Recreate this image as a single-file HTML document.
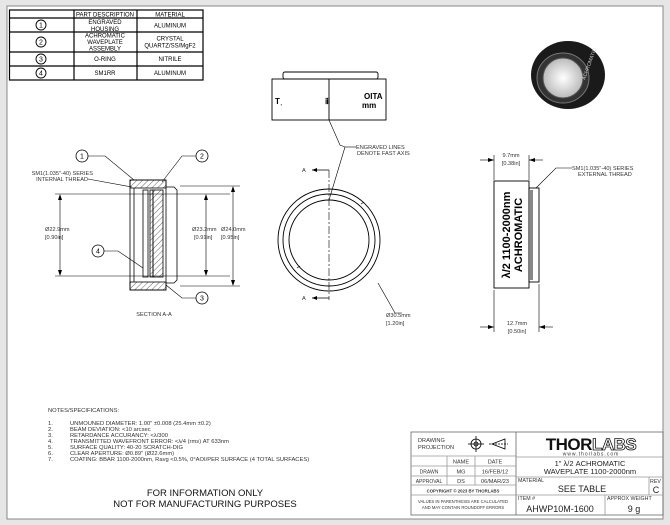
<!DOCTYPE html>
<html><head><meta charset="utf-8"><style>
html,body{margin:0;padding:0;background:#e6e6e6;}
svg{display:block;font-family:"Liberation Sans",sans-serif;}
</style></head><body>
<svg width="670" height="525" viewBox="0 0 670 525" xmlns="http://www.w3.org/2000/svg">
<defs>
<pattern id="h" width="4" height="4" patternUnits="userSpaceOnUse" patternTransform="rotate(45)"><line x1="0" y1="0" x2="0" y2="4" stroke="#000" stroke-width="0.6"/></pattern>
<radialGradient id="g" cx="0.5" cy="0.5" r="0.5"><stop offset="0" stop-color="#fff"/><stop offset="1" stop-color="#bbb"/></radialGradient>
</defs>
<rect x="0" y="0" width="670" height="525" fill="#e6e6e6"/>
<rect x="7" y="6" width="656" height="513" fill="#fff" stroke="#888" stroke-width="1"/>

<g stroke="#000" stroke-width="1.2" fill="none">
<rect x="9.5" y="10" width="193.5" height="70"/>
<line x1="74" y1="10" x2="74" y2="80"/><line x1="137" y1="10" x2="137" y2="80"/>
<line x1="9.5" y1="18" x2="203" y2="18"/><line x1="9.5" y1="32" x2="203" y2="32"/>
<line x1="9.5" y1="52" x2="203" y2="52"/><line x1="9.5" y1="66" x2="203" y2="66"/>
</g>
<g font-size="6" fill="#000" text-anchor="middle">
<text x="105" y="16.5">PART DESCRIPTION</text><text x="170" y="16.5">MATERIAL</text>
<text x="105" y="24">ENGRAVED</text><text x="105" y="31">HOUSING</text><text x="170" y="27.5">ALUMINUM</text>
<text x="105" y="37.5">ACHROMATIC</text><text x="105" y="44">WAVEPLATE</text><text x="105" y="50.5">ASSEMBLY</text>
<text x="170" y="40.5">CRYSTAL</text><text x="170" y="47.5">QUARTZ/SS/MgF2</text>
<text x="105" y="61">O-RING</text><text x="170" y="61">NITRILE</text>
<text x="105" y="75">SM1RR</text><text x="170" y="75">ALUMINUM</text>
</g>
<g stroke="#000" fill="none" stroke-width="0.9">
<circle cx="41" cy="25" r="5"/><circle cx="41" cy="42" r="5"/><circle cx="41" cy="59" r="5"/><circle cx="41" cy="73" r="5"/>
</g>
<g font-size="7" text-anchor="middle"><text x="41" y="27.5">1</text><text x="41" y="44.5">2</text><text x="41" y="61.5">3</text><text x="41" y="75.5">4</text></g>

<g stroke="#000" fill="none" stroke-width="0.8">
<rect x="130" y="180" width="36" height="8" fill="url(#h)"/>
<rect x="130" y="282" width="36" height="8" fill="url(#h)"/>
<rect x="130" y="180" width="36" height="110"/>
<path d="M166 187 H174 L177 190 V280 L174 283 H166"/>
<line x1="134" y1="188" x2="134" y2="282"/>
<rect x="143" y="190" width="5" height="87"/>
<rect x="150" y="190" width="3" height="87" fill="url(#h)"/>
<rect x="153" y="190" width="10" height="87" fill="url(#h)"/>
<line x1="55" y1="194" x2="230" y2="194" stroke-width="0.6"/>
<line x1="55" y1="276" x2="230" y2="276" stroke-width="0.6"/>
<line x1="60" y1="196" x2="60" y2="274" stroke-width="0.6"/>
<line x1="206" y1="196" x2="206" y2="274" stroke-width="0.6"/>
<line x1="180" y1="186" x2="240" y2="186" stroke-width="0.6"/>
<line x1="180" y1="286" x2="240" y2="286" stroke-width="0.6"/>
<line x1="233" y1="188" x2="233" y2="284" stroke-width="0.6"/>
<circle cx="82" cy="156" r="6"/><circle cx="202" cy="156" r="6"/><circle cx="202" cy="298" r="6"/><circle cx="98" cy="251" r="6"/>
<polyline points="88,156 105,156 134,180" stroke-width="0.6"/>
<polyline points="196,156 182,156 162,182" stroke-width="0.6"/>
<polyline points="196,298 182,298 166,285" stroke-width="0.6"/>
<polyline points="104,251 118,251 143,268" stroke-width="0.6"/>
<line x1="88" y1="179" x2="132" y2="187" stroke-width="0.6"/>
</g>
<g fill="#000">
<path d="M60 194 l-2 6 h4z M60 276 l-2 -6 h4z M206 194 l-2 6 h4z M206 276 l-2 -6 h4z M233 186 l-2 6 h4z M233 286 l-2 -6 h4z"/>
</g>
<g font-size="7" text-anchor="middle">
<text x="82" y="158.5">1</text><text x="202" y="158.5">2</text><text x="202" y="300.5">3</text><text x="98" y="253.5">4</text>
</g>
<g font-size="5.6" fill="#333">
<text x="93" y="175" text-anchor="end">SM1(1.035"-40) SERIES</text>
<text x="88" y="181" text-anchor="end">INTERNAL THREAD</text>
<text x="45" y="231">Ø22.9mm</text><text x="45" y="239">[0.90in]</text>
<text x="192" y="231">Ø23.2mm</text><text x="194" y="239">[0.91in]</text>
<text x="221" y="231">Ø24.0mm</text><text x="221" y="239">[0.95in]</text>
<text x="154" y="316" text-anchor="middle">SECTION A-A</text>
</g>

<g stroke="#000" fill="none" stroke-width="0.9">
<rect x="283" y="72" width="95" height="7" rx="2"/>
<rect x="272" y="79" width="114" height="41"/>
<line x1="329" y1="79" x2="329" y2="120"/>
<circle cx="329" cy="240" r="51"/><circle cx="329" cy="240" r="46"/><circle cx="329" cy="240" r="40"/>
<line x1="329" y1="170" x2="329" y2="300" stroke-dasharray="8,2,2,2" stroke-width="0.6"/>
<polyline points="329,120 340,145 345,147 329,200" stroke-width="0.6"/>
<line x1="345" y1="147" x2="356" y2="147" stroke-width="0.6"/>
<polyline points="378,283 395,313 402,313" stroke-width="0.6"/>
<line x1="312" y1="170" x2="329" y2="170" stroke-width="0.8"/>
<line x1="312" y1="298" x2="329" y2="298" stroke-width="0.8"/>
<line x1="361" y1="204" x2="364" y2="202" stroke-width="0.6"/>
<line x1="297" y1="268" x2="300" y2="266" stroke-width="0.6"/>
</g>
<g font-size="8" font-weight="bold" fill="#000">
<text x="275" y="104">Tˌ</text><text x="325" y="104">ⅲ</text><text x="364" y="99">OITA</text><text x="362" y="108">mm</text>
</g>
<path d="M312 170 l5 -2 v4z M312 298 l5 -2 v4z" fill="#000"/>
<g font-size="5.6" fill="#333">
<text x="356" y="149">ENGRAVED LINES</text><text x="357" y="155">DENOTE FAST AXIS</text>
<text x="302" y="172">A</text><text x="302" y="300">A</text>
<text x="386" y="317">Ø30.5mm</text><text x="386" y="325">[1.20in]</text>
</g>

<g>
<ellipse cx="568" cy="75" rx="37" ry="34" fill="#1a1a1a"/>
<ellipse cx="563" cy="78" rx="26" ry="25" fill="#333" stroke="#777" stroke-width="1"/>
<ellipse cx="563" cy="78" rx="20" ry="20" fill="url(#g)" stroke="#555"/>
<text x="585" y="80" font-size="5" fill="#ccc" transform="rotate(-70 585 80)">ACHROMATIC</text>
</g>

<g stroke="#000" fill="none" stroke-width="0.9">
<rect x="494" y="181" width="35" height="107"/>
<rect x="529" y="188" width="10" height="94"/>
<rect x="530" y="190" width="3" height="90" fill="#888" stroke="none"/>
<line x1="494" y1="155" x2="494" y2="180" stroke-width="0.6"/>
<line x1="529" y1="155" x2="529" y2="180" stroke-width="0.6"/>
<line x1="494" y1="290" x2="494" y2="332" stroke-width="0.6"/>
<line x1="539" y1="284" x2="539" y2="332" stroke-width="0.6"/>
<line x1="480" y1="160" x2="494" y2="160" stroke-width="0.6"/>
<line x1="529" y1="160" x2="543" y2="160" stroke-width="0.6"/>
<line x1="480" y1="327" x2="494" y2="327" stroke-width="0.6"/>
<line x1="539" y1="327" x2="553" y2="327" stroke-width="0.6"/>
<polyline points="536,188 556,168 572,168" stroke-width="0.6"/>
</g>
<path d="M494 160 l-6 -2 v4z M529 160 l6 -2 v4z M494 327 l-6 -2 v4z M539 327 l6 -2 v4z" fill="#000"/>
<g font-weight="bold" font-size="11" text-anchor="middle">
<text x="0" y="0" transform="translate(510 235) rotate(-90)">λ/2 1100-2000nm</text>
<text x="0" y="0" transform="translate(522 235) rotate(-90)">ACHROMATIC</text>
</g>
<g font-size="5.6" fill="#333">
<text x="511" y="157" text-anchor="middle">9.7mm</text><text x="511" y="165" text-anchor="middle">[0.38in]</text>
<text x="517" y="325" text-anchor="middle">12.7mm</text><text x="517" y="333" text-anchor="middle">[0.50in]</text>
<text x="572" y="170">SM1(1.035"-40) SERIES</text><text x="578" y="176">EXTERNAL THREAD</text>
</g>

<g font-size="5.8" fill="#333">
<text x="48" y="412">NOTES/SPECIFICATIONS:</text>
<text x="48" y="425">1.</text><text x="70" y="425">UNMOUNED DIAMETER: 1.00" ±0.008 (25.4mm ±0.2)</text>
<text x="48" y="431">2.</text><text x="70" y="431">BEAM DEVIATION: &lt;10 arcsec</text>
<text x="48" y="437">3.</text><text x="70" y="437">RETARDANCE ACCURANCY: &lt;λ/300</text>
<text x="48" y="443">4.</text><text x="70" y="443">TRANSMITTED WAVEFRONT ERROR: &lt;λ/4 (rms) AT 633nm</text>
<text x="48" y="449">5.</text><text x="70" y="449">SURFACE QUALITY: 40-20 SCRATCH-DIG</text>
<text x="48" y="455">6.</text><text x="70" y="455">CLEAR APERTURE: Ø0.89" (Ø22.6mm)</text>
<text x="48" y="461">7.</text><text x="70" y="461">COATING: BBAR 1100-2000nm, Ravg &lt;0.5%, 0°AOI/PER SURFACE (4 TOTAL SURFACES)</text>
</g>
<g font-size="9.5" text-anchor="middle" fill="#111">
<text x="205" y="496">FOR INFORMATION ONLY</text>
<text x="205" y="507">NOT FOR MANUFACTURING PURPOSES</text>
</g>

<g stroke="#999" stroke-width="0.8" fill="none">
<rect x="411" y="432" width="252" height="83" stroke="#666"/>
<line x1="516" y1="432" x2="516" y2="515" stroke="#666"/>
<line x1="411" y1="456" x2="516" y2="456"/><line x1="411" y1="466" x2="516" y2="466"/>
<line x1="411" y1="476" x2="516" y2="476"/><line x1="411" y1="485" x2="516" y2="485"/>
<line x1="411" y1="495" x2="516" y2="495"/>
<line x1="447" y1="456" x2="447" y2="485"/><line x1="475" y1="456" x2="475" y2="485"/>
<line x1="516" y1="457" x2="663" y2="457"/><line x1="516" y1="477" x2="663" y2="477"/>
<line x1="516" y1="495" x2="663" y2="495"/>
<line x1="649" y1="477" x2="649" y2="495"/><line x1="605" y1="495" x2="605" y2="515"/>
</g>
<g stroke="#000" fill="none" stroke-width="0.8">
<circle cx="476" cy="444" r="5"/><circle cx="476" cy="444" r="2"/>
<line x1="468" y1="444" x2="484" y2="444"/><line x1="476" y1="436" x2="476" y2="452"/>
<path d="M492 444 L505 439 V449 Z"/><line x1="489" y1="444" x2="508" y2="444" stroke-dasharray="2,1"/>
</g>
<g font-size="5.6" fill="#333">
<text x="418" y="442">DRAWING</text><text x="418" y="449">PROJECTION</text>
<text x="461" y="463.5" text-anchor="middle">NAME</text><text x="495" y="463.5" text-anchor="middle">DATE</text>
<text x="429" y="473.5" text-anchor="middle" font-size="5">DRAWN</text><text x="461" y="473.5" text-anchor="middle">MG</text><text x="495" y="473.5" text-anchor="middle">16/FEB/12</text>
<text x="429" y="483" text-anchor="middle" font-size="5">APPROVAL</text><text x="461" y="483" text-anchor="middle">DS</text><text x="495" y="483" text-anchor="middle">06/MAR/23</text>
<text x="463" y="492.5" text-anchor="middle" font-size="4.3" font-weight="bold">COPYRIGHT © 2023 BY THORLABS</text>
<text x="463" y="503" text-anchor="middle" font-size="4.2">VALUES IN PARENTHESIS ARE CALCULATED</text>
<text x="463" y="509" text-anchor="middle" font-size="4.2">AND MAY CONTAIN ROUNDOFF ERRORS</text>
<text x="518" y="482" font-size="5.3">MATERIAL</text>
<text x="650" y="483" font-size="5.3">REV</text>
<text x="518" y="500" font-size="5.3">ITEM #</text>
<text x="607" y="500" font-size="5.3">APPROX WEIGHT</text>
</g>
<text x="591" y="450" text-anchor="middle" font-size="17" font-weight="bold" letter-spacing="-0.5"><tspan fill="#111">THOR</tspan><tspan fill="#fff" stroke="#111" stroke-width="0.8">LABS</tspan></text>
<text x="591" y="455.5" text-anchor="middle" font-size="5" letter-spacing="1" fill="#333">www.thorlabs.com</text>
<text x="590" y="466" text-anchor="middle" font-size="7.5" fill="#222">1" λ/2 ACHROMATIC</text>
<text x="590" y="474" text-anchor="middle" font-size="7.5" fill="#222">WAVEPLATE 1100-2000nm</text>
<text x="582" y="492" text-anchor="middle" font-size="9" fill="#222">SEE TABLE</text>
<text x="656" y="493" text-anchor="middle" font-size="9" fill="#222">C</text>
<text x="560" y="512" text-anchor="middle" font-size="9" fill="#222">AHWP10M-1600</text>
<text x="634" y="512" text-anchor="middle" font-size="9" fill="#222">9 g</text>
</svg>
</body></html>
